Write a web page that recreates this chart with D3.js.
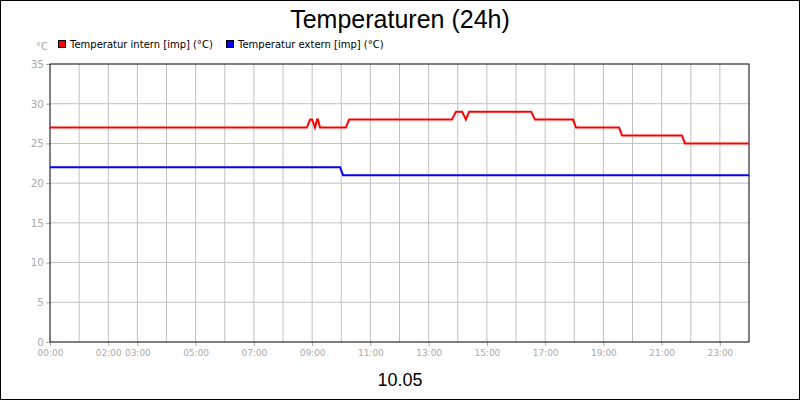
<!DOCTYPE html>
<html><head><meta charset="utf-8">
<script src="https://cdn.jsdelivr.net/npm/d3@7"></script>
<style>body{margin:0;background:#fff}svg{display:block}</style>
</head><body><svg id="c" width="800" height="400"></svg>
<script>
const title = "Temperaturen (24h)";
const dateLabel = "10.05";
const seriesNames = ["Temperatur intern [imp] (°C)", "Temperatur extern [imp] (°C)"];
const seriesColors = ["#ff0000", "#0000ff"];
const internHours = [0, 8.82, 8.93, 9.0, 9.1, 9.17, 9.2, 9.27, 10.16, 10.27, 13.80, 13.94, 14.15, 14.28, 14.39, 16.52, 16.65, 17.96, 18.06, 19.54, 19.64, 21.70, 21.80, 24];
const internValues = [27, 27, 28, 28, 27, 28, 28, 27, 27, 28, 28, 29, 29, 28, 29, 29, 28, 28, 27, 27, 26, 26, 25, 25];
const externHours = [0, 9.96, 10.06, 24];
const externValues = [22, 22, 21, 21];
const xTickHours = [0, 2, 3, 5, 7, 9, 11, 13, 15, 17, 19, 21, 23];
const xTickLabels = ["00:00","02:00","03:00","05:00","07:00","09:00","11:00","13:00","15:00","17:00","19:00","21:00","23:00"];
const yTicks = [0,5,10,15,20,25,30,35];

const svg = d3.select("#c");
const W=800,H=400, L=50, R=749, T=64, B=342;
svg.append("rect").attr("x",0.5).attr("y",0.5).attr("width",W-1).attr("height",H-1).attr("fill","#fff").attr("stroke","#000");
const x = d3.scaleLinear().domain([0,24]).range([L,R]);
const y = d3.scaleLinear().domain([0,35]).range([B,T]);
const g = svg.append("g");
g.selectAll(".vg").data(d3.range(1,24)).join("line").attr("x1",d=>x(d)).attr("x2",d=>x(d)).attr("y1",T).attr("y2",B).attr("stroke","#c0c0c0");
g.selectAll(".hg").data(yTicks.slice(1,-1)).join("line").attr("x1",L).attr("x2",R).attr("y1",d=>y(d)).attr("y2",d=>y(d)).attr("stroke","#c0c0c0");
const ya = svg.append("g").attr("transform",`translate(${L},0)`).call(d3.axisLeft(y).tickValues(yTicks).tickSize(4).tickPadding(2));
ya.select(".domain").remove();
ya.selectAll("line").attr("stroke","#aaa");
ya.selectAll("text").attr("fill","#aaa").style("font","10.5px 'DejaVu Sans', sans-serif");
const xa = svg.append("g").attr("transform",`translate(0,${B})`).call(d3.axisBottom(x).tickValues(xTickHours).tickFormat((d,i)=>xTickLabels[i]).tickSize(4).tickPadding(4));
xa.select(".domain").remove();
xa.selectAll("line").attr("stroke","#aaa");
xa.selectAll("text").attr("fill","#aaa").style("font","9px 'DejaVu Sans', sans-serif");
svg.append("rect").attr("x",L).attr("y",T).attr("width",R-L).attr("height",B-T).attr("fill","none").attr("stroke","#000");
const line = d3.line().x(d=>x(d[0])).y(d=>y(d[1]));
[[internHours,internValues],[externHours,externValues]].forEach(([hs,vs],i)=>{
  svg.append("path").datum(hs.map((h,j)=>[h,vs[j]])).attr("d",line).attr("fill","none").attr("stroke",seriesColors[i]).attr("stroke-width",2);
});
svg.append("text").attr("x",400).attr("y",28).attr("text-anchor","middle").style("font","25px 'Liberation Sans', Arial, sans-serif").text(title);
svg.append("text").attr("x",400).attr("y",386).attr("text-anchor","middle").style("font","18px 'Liberation Sans', Arial, sans-serif").text(dateLabel);
svg.append("text").attr("x",36).attr("y",50).attr("fill","#aaa").style("font","10px 'DejaVu Sans', sans-serif").text("°C");
const lx=[58,226];
seriesNames.forEach((n,i)=>{
  svg.append("rect").attr("x",lx[i]+0.5).attr("y",40.5).attr("width",7).attr("height",7).attr("fill",seriesColors[i]).attr("stroke","#000");
  svg.append("text").attr("x",lx[i]+12).attr("y",48).style("font","10px 'DejaVu Sans', sans-serif").text(n);
});
</script></body></html>
